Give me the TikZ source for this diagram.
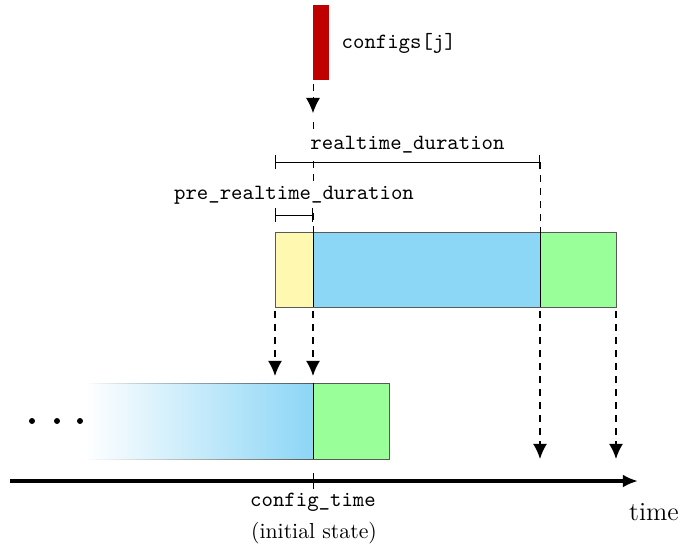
\documentclass[tikz,border=0pt]{standalone}
\usepackage{tikz}
\usetikzlibrary{arrows.meta,fadings}
\definecolor{barred}{RGB}{192,0,0}
\definecolor{preyellow}{RGB}{255,248,176}
\definecolor{rtblue}{RGB}{140,214,246}
\definecolor{postgreen}{RGB}{153,255,153}

\begin{document}
\begin{tikzpicture}[x=0.46pt,y=-0.46pt,
    box/.style={draw=black!65,thin},
    split/.style={draw=black,thin},
    drop/.style={-{Latex[length=7pt,width=6.5pt]},dashed,thick},
    guide/.style={dashed,thin},
    dim/.style={{Bar[width=6.5pt]}-{Bar[width=6.5pt]},thin},
    lbl/.style={font=\ttfamily}]
    \useasboundingbox (0,0) rectangle (680,546);
    % the config that arrives
    \fill[barred](313,5)rectangle(329,80);
    \node[lbl,anchor=west] (cfg) at (334,43) {configs[j]};
    \coordinate (cfgbot) at (313,84);
    \coordinate (cfgtip) at (313,113);
    \draw[-{Latex[length=7pt,width=6.5pt]},dashed,thin](cfgbot)--(cfgtip);
    % upper timeline
    \coordinate (a) at (275,232);
    \coordinate (b) at (313,232);
    \coordinate (c) at (540,232);
    \coordinate (d) at (616,232);
    \fill[preyellow](275,232)rectangle(313,307);
    \fill[rtblue](313,232)rectangle(540,307);
    \fill[postgreen](540,232)rectangle(616,307);
    \draw[box](275,232)rectangle(616,307);
    \draw[split](313,232)--(313,307);
    \draw[split](540,232)--(540,307);
    \draw[guide](313,122)--(b);
    \draw[guide](540,162)--(c);
    % durations
    \coordinate (rtl) at (275,162);
    \coordinate (rtr) at (540,162);
    \draw[dim](rtl)--(rtr)node[midway,above=3pt,lbl,fill=white,inner ysep=1pt] (rtd) {realtime\_duration};
    \coordinate (prl) at (275,215);
    \coordinate (prr) at (313,215);
    \draw[dim](prl)--(prr)node[midway,above=3.5pt,lbl,fill=white,inner ysep=1pt] (prd) {pre\_realtime\_duration};
    % lower timeline
    \path[fill=rtblue,path fading=west](85,383)rectangle(313,459);
    \path[draw=black!65,thin,path fading=west](85,383)--(313,383) (85,459)--(313,459);
    \fill[postgreen](313,383)rectangle(389,459);
    \draw[box](313,383)--(389,383)--(389,459)--(313,459);
    \draw[split](313,383)--(313,459);
    \foreach \x in {32,57,80} \fill(\x,421)circle(3);
    % where things go
    \coordinate (a2) at (275,376);
    \coordinate (b2) at (313,376);
    \coordinate (c2) at (540,459);
    \coordinate (d2) at (616,459);
    \draw[drop](275,311)--(a2);
    \draw[drop](313,311)--(b2);
    \draw[drop](540,311)--(c2);
    \draw[drop](616,311)--(d2);
    % time axis
    \coordinate (t0) at (10,481);
    \coordinate (t1) at (638,481);
    \draw[-{Latex[length=7pt,width=6pt]},line width=1.4pt](t0)--(t1);
    \node[font=\large] (tm) at (654,512) {time};
    \draw[thin](313,473)--(313,489);
    \node[lbl] (ct) at (313,502) {config\_time};
    \node (init) at (314,533) {(initial state)};
\end{tikzpicture}
\end{document}
